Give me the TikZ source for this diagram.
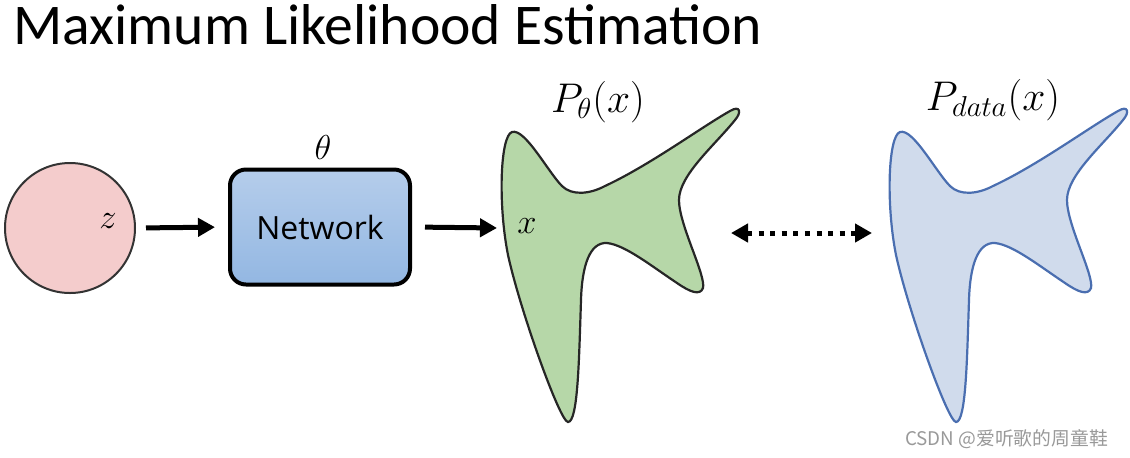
\documentclass[tikz,border=0pt]{standalone}
\usepackage{fontspec}
\setmainfont{Carlito}
\newfontfamily\netfont{Open Sans}
\newfontfamily\cjkfont{Noto Sans CJK SC}
\usetikzlibrary{arrows.meta}
\definecolor{zpink}{HTML}{F4CCCC}
\definecolor{netTop}{HTML}{B5CDEB}
\definecolor{netBot}{HTML}{93B7E2}
\definecolor{genGreen}{HTML}{B6D7A8}
\definecolor{dataFill}{HTML}{D0DBEC}
\definecolor{dataLine}{HTML}{4A6EB0}
\tikzset{
  blob/.pic={
    \path[pic actions] (512,132)
      .. controls (525,128) and (548,172) .. (562,186)
      .. controls (572,196) and (590,194) .. (605,186)
      .. controls (650,165) and (700,128) .. (730,111)
      .. controls (740,105) and (742,112) .. (735,120)
      .. controls (715,145) and (679,175) .. (679,200)
      .. controls (679,225) and (706,275) .. (703,288)
      .. controls (700,296) and (690,292) .. (677,283)
      .. controls (650,265) and (625,245) .. (607,243)
      .. controls (590,242) and (582,265) .. (581,300)
      .. controls (579,360) and (578,422) .. (568,422)
      .. controls (560,422) and (520,310) .. (508,255)
      .. controls (498,205) and (500,136) .. (512,132) -- cycle;
  }
}
\begin{document}
\begin{tikzpicture}[x=0.5pt,y=-0.5pt,
    fatarrow/.style={line width=2.5pt,-{Triangle[length=8.5pt,width=9pt]}},
    label/.style={font=\fontsize{16}{18}\selectfont},
    plabel/.style={font=\fontsize{21}{24}\selectfont}]
  \useasboundingbox (0,0) rectangle (1130,457);
  % title
  \node[anchor=base west,inner sep=0,font=\fontsize{28.8}{32}\selectfont] (title) at (13,44) {Maximum Likelihood Estimation};
  % latent, network
  \node[circle,draw=black!80,line width=1pt,fill=zpink,minimum size=65pt,inner sep=0] (zcirc) at (70,228) {};
  \node[label] (zlab) at (108,221) {$z$};
  \node[draw,line width=2pt,rounded corners=8pt,top color=netTop,bottom color=netBot,
        minimum width=90pt,minimum height=57.5pt,font=\netfont\fontsize{16}{18}\selectfont] (net) at (320,227) {Network};
  \node[label] (theta) at (323,147) {$\theta$};
  % distributions
  \pic[draw=black!85,line width=1.1pt,fill=genGreen] at (0,0) {blob};
  \pic[draw=dataLine,line width=1.1pt,fill=dataFill] at (388,0) {blob};
  \node[plabel] (pgen) at (598,102) {$P_\theta(x)$};
  \node[plabel] (pdata) at (993,100) {$P_{data}(x)$};
  \node[label] (xlab) at (527,226) {$x$};
  \coordinate (genIn) at (499,228);
  \coordinate (genR) at (731,233);
  \coordinate (dataL) at (872,233);
  % arrows
  \draw[fatarrow,shorten <=5pt,shorten >=6.5pt] (zcirc.east) -- (net.west);
  \draw[fatarrow,shorten <=6.5pt,shorten >=1pt] (net.east) -- (genIn);
  \draw[line width=2.5pt,dash pattern=on 2.5pt off 3.3pt,
        {Triangle[length=8.5pt,width=9pt]}-{Triangle[length=8.5pt,width=9pt]}] (genR) -- (dataL);
  \node[anchor=base east,text=black!40,font=\cjkfont\fontsize{9.4}{11}\selectfont] (mark) at (1115,445) {CSDN @爱听歌的周童鞋};
\end{tikzpicture}
\end{document}
